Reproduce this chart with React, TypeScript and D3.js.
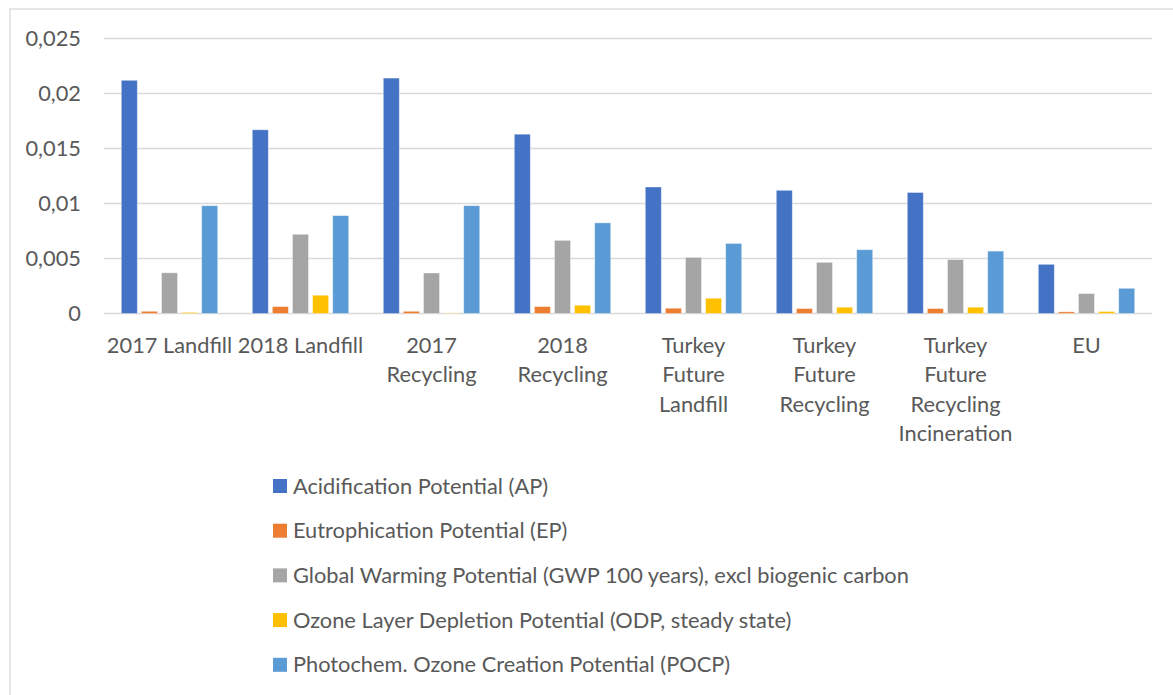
import React from "react";
import * as d3 from "d3";

const categories = [
  "2017 Landfill",
  "2018 Landfill",
  "2017 Recycling",
  "2018 Recycling",
  "Turkey Future Landfill",
  "Turkey Future Recycling",
  "Turkey Future Recycling Incineration",
  "EU",
];

const categoryLabelLines = [
  ["2017 Landfill"],
  ["2018 Landfill"],
  ["2017", "Recycling"],
  ["2018", "Recycling"],
  ["Turkey", "Future", "Landfill"],
  ["Turkey", "Future", "Recycling"],
  ["Turkey", "Future", "Recycling", "Incineration"],
  ["EU"],
];

const seriesNames = [
  "Acidification Potential (AP)",
  "Eutrophication Potential (EP)",
  "Global Warming Potential (GWP 100 years), excl biogenic carbon",
  "Ozone Layer Depletion Potential (ODP, steady state)",
  "Photochem. Ozone Creation Potential (POCP)",
];

const apValues = [0.0212, 0.0167, 0.0214, 0.0163, 0.0115, 0.0112, 0.0110, 0.00447];
const epValues = [0.0002, 0.00063, 0.0002, 0.00063, 0.00048, 0.00045, 0.00045, 0.00015];
const gwpValues = [0.0037, 0.0072, 0.00368, 0.00665, 0.0051, 0.00465, 0.0049, 0.00181];
const odpValues = [0.0001, 0.00166, 0.00003, 0.00075, 0.00139, 0.00057, 0.00057, 0.00018];
const pocpValues = [0.0098, 0.0089, 0.0098, 0.00824, 0.00637, 0.0058, 0.00567, 0.00229];

const seriesValues = [apValues, epValues, gwpValues, odpValues, pocpValues];
const seriesColors = ["#4472C4", "#ED7D31", "#A5A5A5", "#FFC000", "#5B9BD5"];

const yTicks = [0, 0.005, 0.01, 0.015, 0.02, 0.025];
const yTickLabels = ["0", "0,005", "0,01", "0,015", "0,02", "0,025"];

const W = 1173;
const H = 695;
const plot = { left: 104, right: 1152, top: 38.5, bottom: 313.5 };
const FONT = "Lato, 'Open Sans', sans-serif";
const TEXT = "#595959";
const FS = 21.8;

export default function App() {
  const x0 = d3.scaleBand<string>().domain(categories).range([plot.left, plot.right]).paddingInner(0).paddingOuter(0);
  const groupW = 96.4;
  const x1 = d3
    .scaleBand<number>()
    .domain(d3.range(seriesNames.length))
    .range([(x0.bandwidth() - groupW) / 2, (x0.bandwidth() + groupW) / 2])
    .paddingInner(0.204)
    .paddingOuter(0);
  const y = d3.scaleLinear().domain([0, 0.025]).range([plot.bottom, plot.top]);

  return (
    <svg
      width={W}
      height={H}
      style={{ position: "absolute", left: 0, top: 0, background: "#fff" }}
      fontFamily={FONT}
    >
      <rect x={10} y={9} width={W} height={H} fill="#fff" stroke="#D9D9D9" strokeWidth={1.3} />
      {yTicks.map((t, i) => (
        <g key={i}>
          <line x1={plot.left} x2={plot.right} y1={y(t)} y2={y(t)} stroke="#D9D9D9" strokeWidth={1.3} />
          <text x={81} y={y(t)} dy="0.35em" textAnchor="end" fontSize={FS} fill={TEXT}>
            {yTickLabels[i]}
          </text>
        </g>
      ))}
      {categories.map((c, ci) => (
        <g key={c} transform={`translate(${x0(c)},0)`}>
          {seriesValues.map((vals, si) => (
            <rect
              key={si}
              x={x1(si)}
              y={y(vals[ci])}
              width={x1.bandwidth()}
              height={y(0) - y(vals[ci])}
              fill={seriesColors[si]}
              stroke="#ffffff"
              strokeOpacity={0.45}
              strokeWidth={0.8}
            />
          ))}
          {categoryLabelLines[ci].map((ln, li) => (
            <text
              key={li}
              x={x0.bandwidth() / 2}
              y={352.5 + li * 29.5}
              textAnchor="middle"
              fontSize={FS}
              fill={TEXT}
            >
              {ln}
            </text>
          ))}
        </g>
      ))}
      {seriesNames.map((s, i) => (
        <g key={s} transform={`translate(273,${486 + i * 44.7})`}>
          <rect x={0} y={-7} width={14} height={14} fill={seriesColors[i]} />
          <text x={20} y={0} dy="0.35em" fontSize={FS} fill={TEXT}>
            {s}
          </text>
        </g>
      ))}
    </svg>
  );
}
